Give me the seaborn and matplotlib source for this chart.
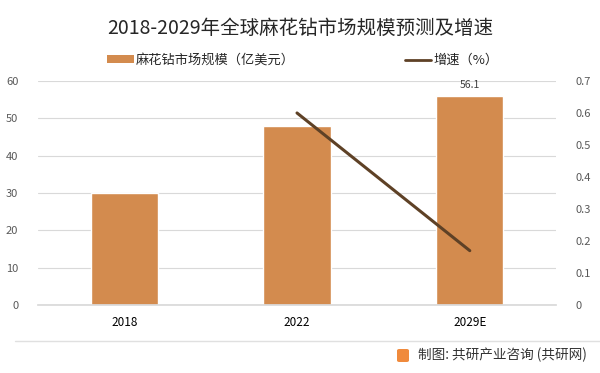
import numpy as np
import pandas as pd
import seaborn as sns
import matplotlib.pyplot as plt
from matplotlib.lines import Line2D
from matplotlib.patches import FancyBboxPatch, Patch

# 数据
years = ['2018', '2022', '2029E']
market_size = [30.0, 48.0, 56.1]      # 亿美元
growth = [np.nan, 0.6, 0.17]          # 增速

sns.set_theme(style="white")
plt.rcParams['font.family'] = ['Noto Sans CJK SC', 'DejaVu Sans']
plt.rcParams['axes.unicode_minus'] = False

bar_color = '#D38B4E'
line_color = '#5E4126'

df = pd.DataFrame({'year': years, 'size': market_size, 'growth': growth})

fig = plt.figure(figsize=(6, 3.73), dpi=100)
ax = fig.add_axes([0.063, 0.182, 0.864, 0.601])

sns.barplot(data=df, x='year', y='size', color=bar_color, width=0.39,
            saturation=1, ax=ax)
ax.set_ylim(0, 60)
ax.set_yticks(range(0, 61, 10))
ax.set_xlim(-0.5, 2.5)
ax.yaxis.grid(True, color='#D9D9D9', linewidth=0.8)
ax.set_axisbelow(True)
for s in ax.spines.values():
    s.set_visible(False)
ax.spines['bottom'].set_visible(True)
ax.spines['bottom'].set_color('#D9D9D9')
ax.set_xlabel('')
ax.set_ylabel('')
ax.tick_params(axis='y', labelsize=8, colors='#595959', length=0, pad=14)
ax.tick_params(axis='x', labelsize=8.5, colors='black', length=0, pad=8)

# 数据标签
ax.text(2, 56.1 + 1.5, '56.1', ha='center', va='bottom', fontsize=7.5, color='#404040')

ax2 = ax.twinx()
sns.lineplot(x=[1, 2], y=growth[1:], color=line_color, linewidth=2.2, ax=ax2)
ax2.set_ylim(0, 0.7)
ax2.set_yticks(np.arange(0, 0.71, 0.1))
ax2.set_yticklabels(['0', '0.1', '0.2', '0.3', '0.4', '0.5', '0.6', '0.7'])
ax2.tick_params(axis='y', labelsize=8, colors='#595959', length=0, pad=14)
for s in ax2.spines.values():
    s.set_visible(False)
ax2.set_ylabel('')

# 标题
fig.text(0.5, 0.925, '2018-2029年全球麻花钻市场规模预测及增速', ha='center', va='center',
         fontsize=14, color='#262626')

# 图例
handles = [Patch(facecolor=bar_color, edgecolor='none'),
           Line2D([0], [0], color=line_color, lw=2)]
fig.legend(handles, ['麻花钻市场规模（亿美元）', '增速（%）'], loc='center',
           bbox_to_anchor=(0.505, 0.838), ncol=2, frameon=False, fontsize=9.5,
           handlelength=2.0, handleheight=0.55, columnspacing=8.3, handletextpad=0.2)

# 底部分隔线与来源
fig.add_artist(Line2D([0.025, 1.0], [1 - 341 / 373] * 2, color='#E0E0E0', lw=1))
fig.add_artist(FancyBboxPatch((397 / 600, 1 - 362 / 373), 12 / 600, 13 / 373,
                              boxstyle='round,pad=0,rounding_size=0.004',
                              fc='#F08A3C', ec='none'))
fig.text(418 / 600, 1 - 355 / 373, '制图: 共研产业咨询 (共研网)', ha='left', va='center',
         fontsize=9.8, color='#333333')

plt.savefig('out.png', dpi=100)
